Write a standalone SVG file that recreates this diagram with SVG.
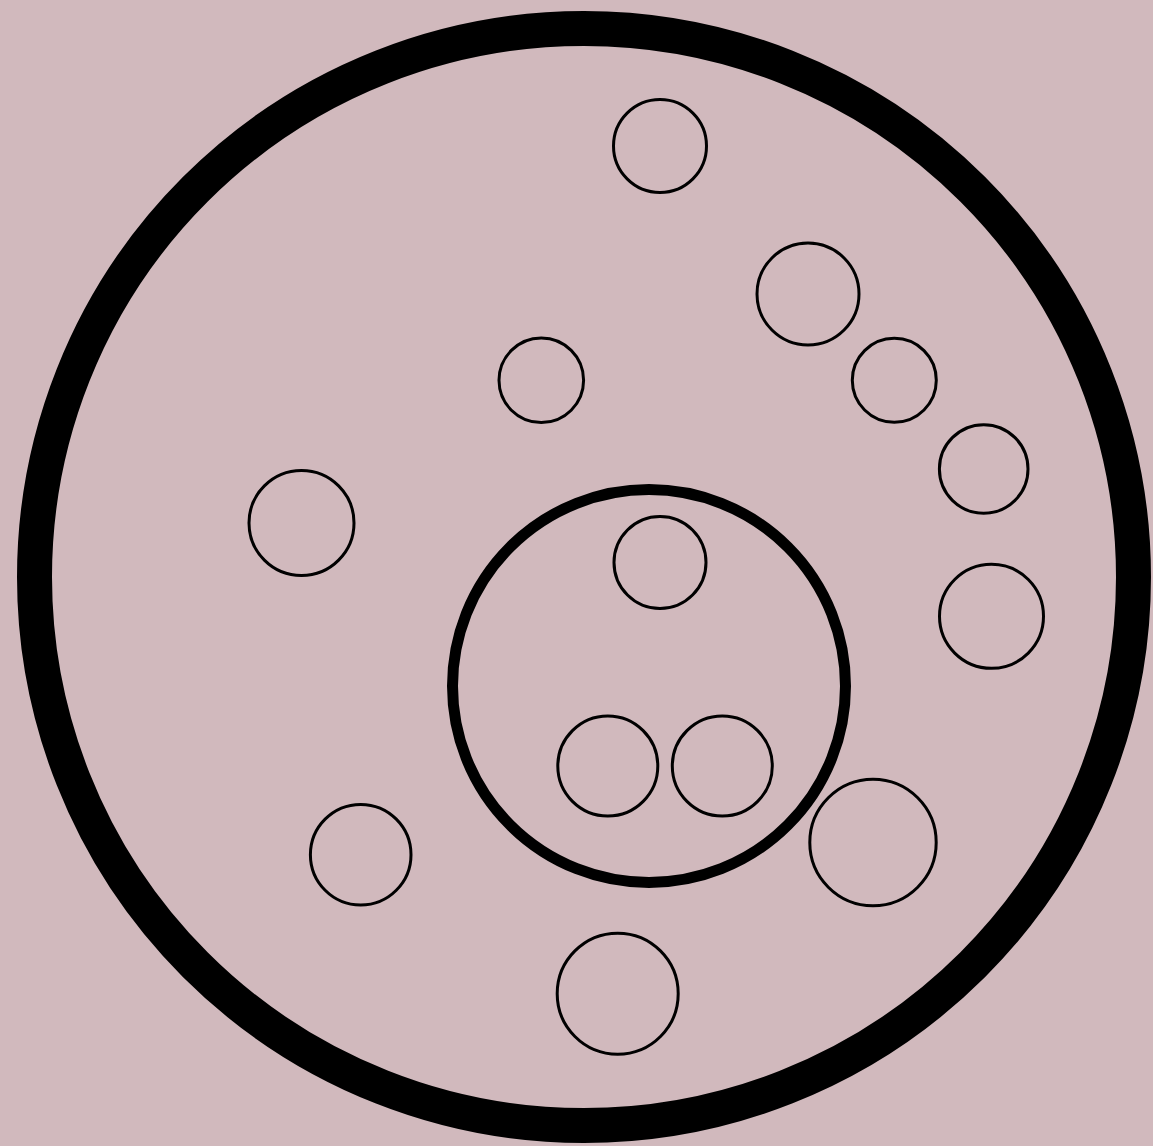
<svg xmlns="http://www.w3.org/2000/svg" width="1153" height="1146" viewBox="0 0 1153 1146">
<style>
.outer{fill:none;stroke:#000;stroke-width:35}
.inner{fill:none;stroke:#000;stroke-width:11}
.small{fill:none;stroke:#000;stroke-width:3}
</style>
<rect width="1153" height="1146" fill="#d1b9bd"/>
<g id="cell"><ellipse class="outer" cx="584" cy="577" rx="549.5" ry="548.5"/></g>
<g id="nucleus"><circle class="inner" cx="649" cy="686" r="196.5"/></g>
<g id="n1"><circle class="small" cx="660" cy="146" r="46.5"/></g>
<g id="n2"><circle class="small" cx="808" cy="294" r="51"/></g>
<g id="n3"><circle class="small" cx="541.3" cy="380.3" r="42.3"/></g>
<g id="n4"><circle class="small" cx="894.3" cy="380.3" r="42"/></g>
<g id="n5"><circle class="small" cx="983.7" cy="469" r="44.3"/></g>
<g id="n6"><circle class="small" cx="301.5" cy="523" r="52.5"/></g>
<g id="n7"><circle class="small" cx="660" cy="562.5" r="46"/></g>
<g id="n8"><circle class="small" cx="991.5" cy="616.3" r="52"/></g>
<g id="n9"><circle class="small" cx="607.8" cy="766" r="50"/></g>
<g id="n10"><circle class="small" cx="722.3" cy="766" r="50"/></g>
<g id="n11"><circle class="small" cx="873" cy="842.5" r="63.2"/></g>
<g id="n12"><circle class="small" cx="360.7" cy="854.7" r="50.3"/></g>
<g id="n13"><circle class="small" cx="617.7" cy="993.7" r="60.5"/></g>
<g id="connectors"></g>
</svg>
